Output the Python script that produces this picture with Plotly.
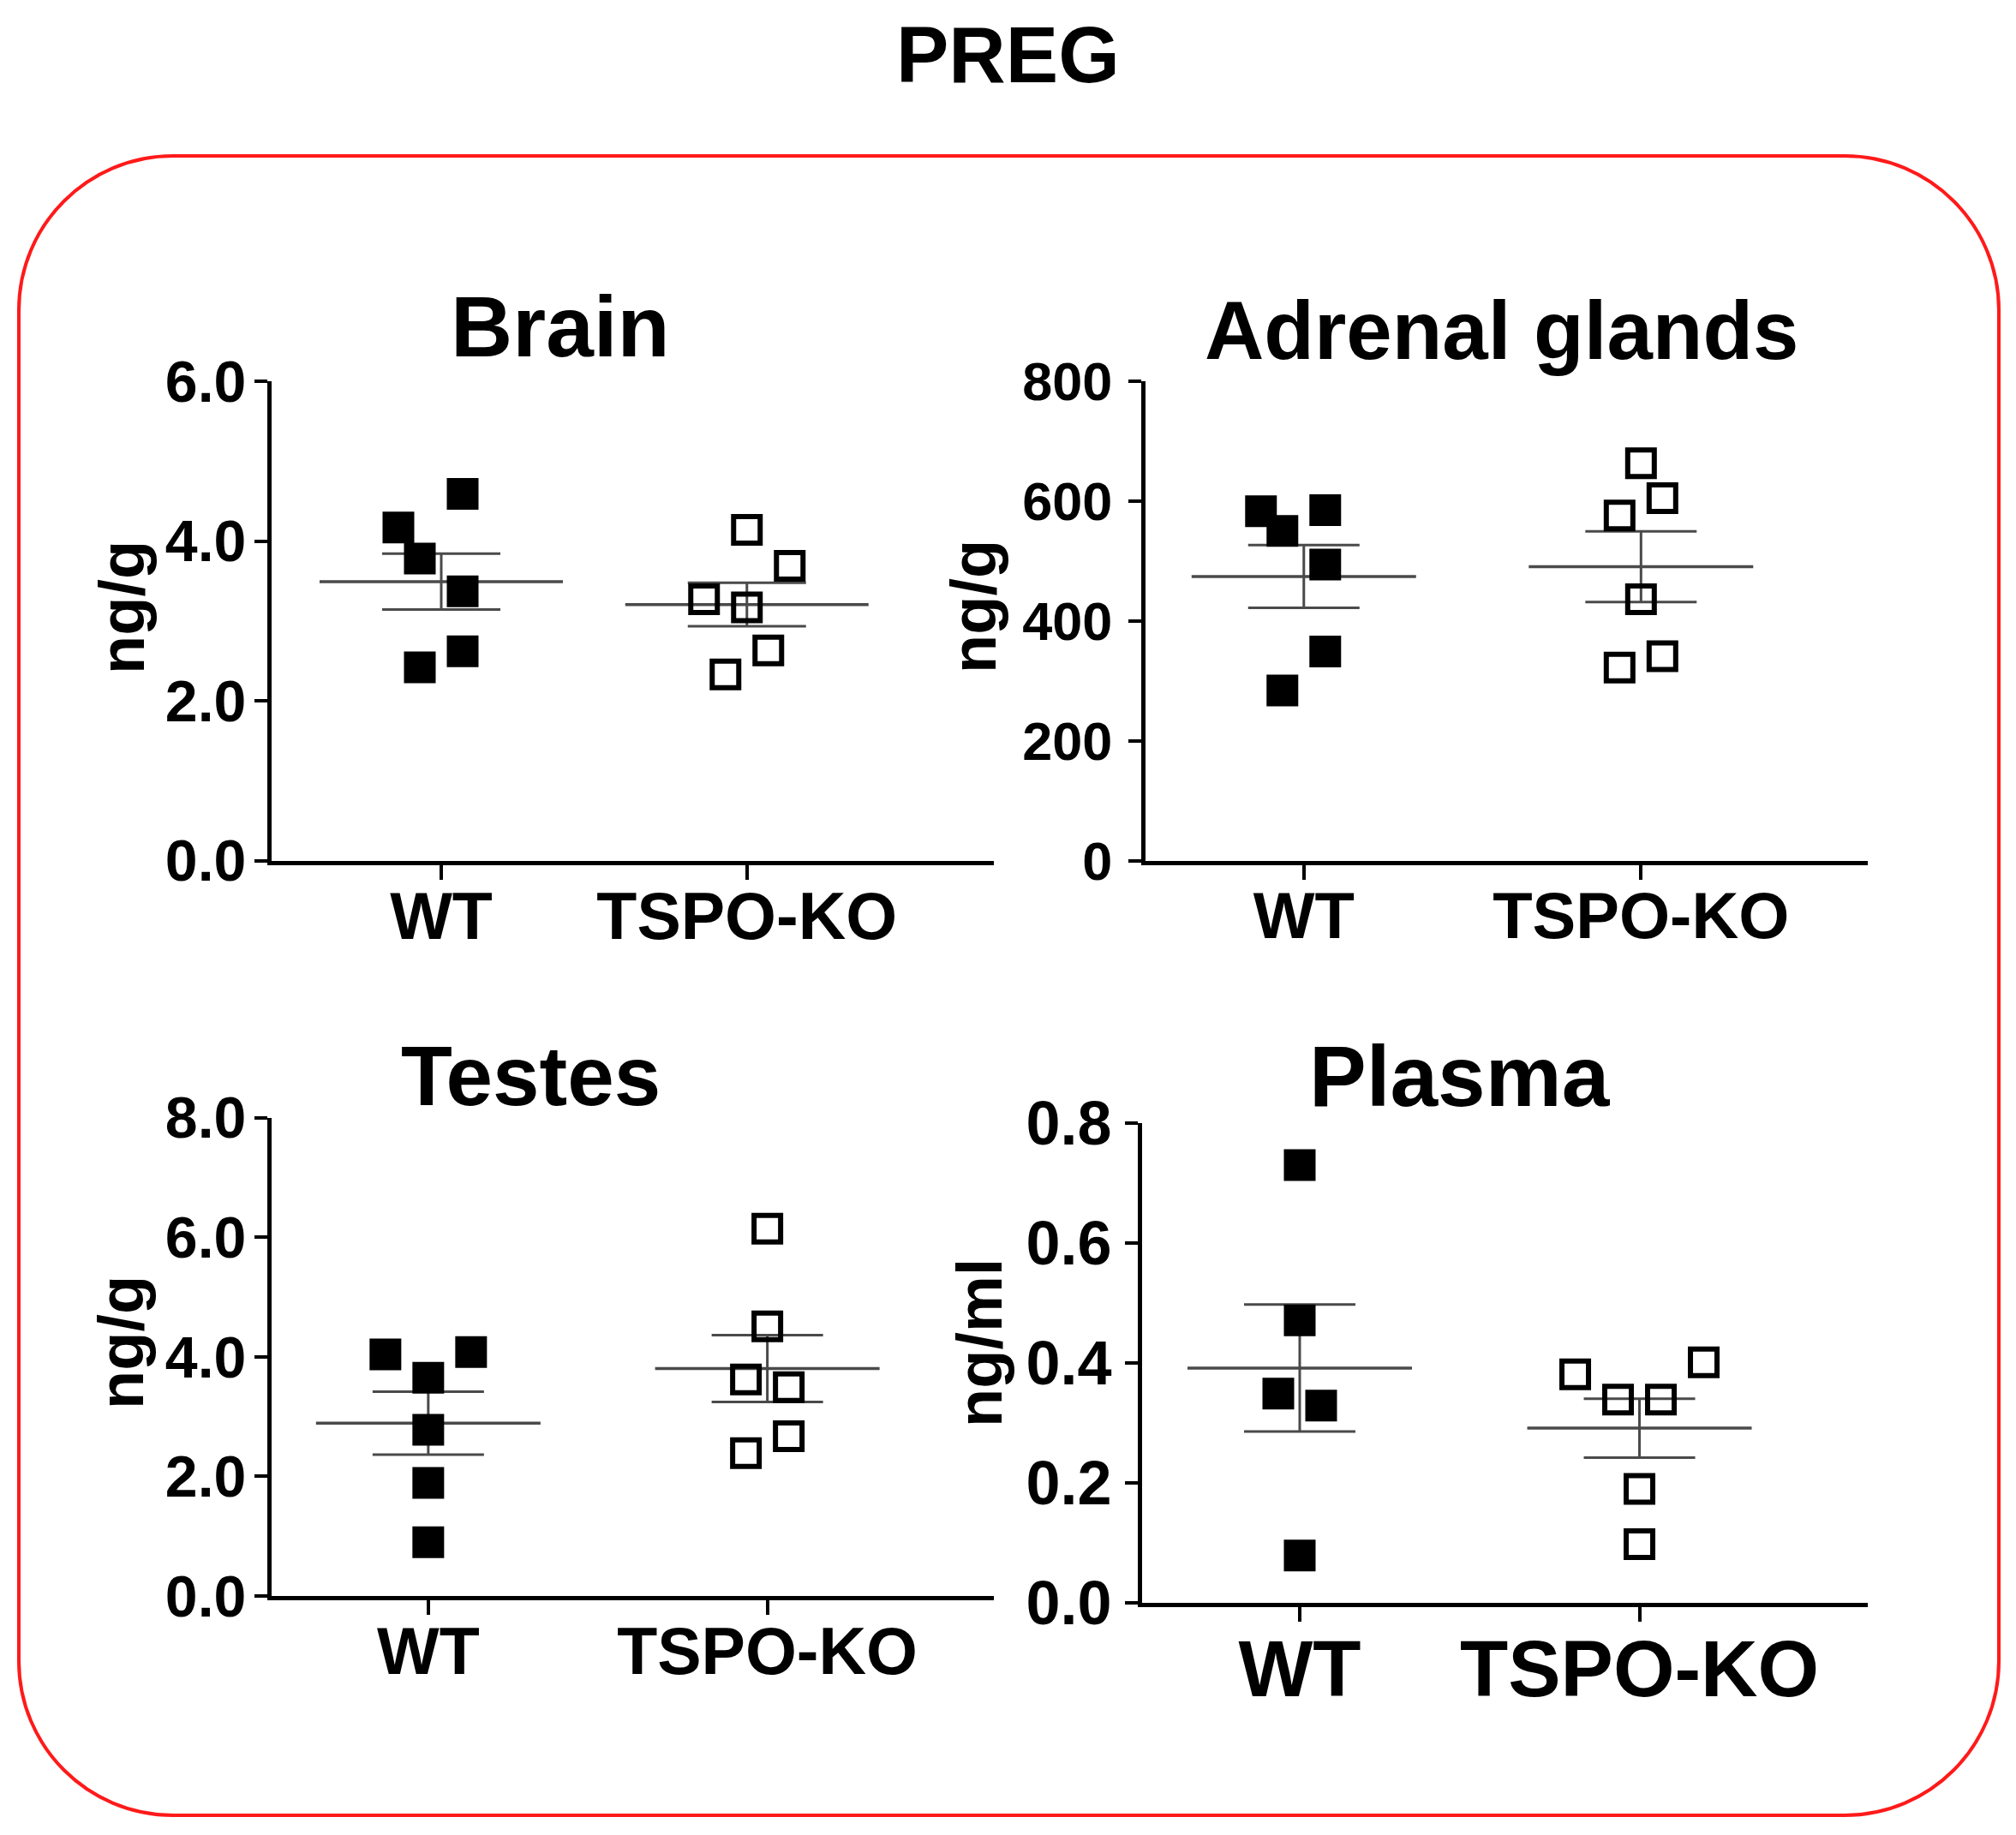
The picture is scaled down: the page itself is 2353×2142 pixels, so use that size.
import numpy as np
import plotly.graph_objects as go

# ---------------- data ----------------
groups = ["WT", "TSPO-KO"]

brain_wt = [4.17, 4.59, 3.78, 3.37, 2.62, 2.42]
brain_ko = [4.14, 3.69, 3.27, 3.17, 2.63, 2.33]
adrenal_wt = [583, 585, 550, 494, 349, 284]
adrenal_ko = [663, 605, 576, 436, 341, 322]
testes_wt = [4.04, 4.08, 3.65, 2.78, 1.89, 0.90]
testes_ko = [6.14, 4.51, 3.62, 3.49, 2.67, 2.39]
plasma_wt = [0.730, 0.471, 0.349, 0.329, 0.079]
plasma_ko = [0.381, 0.339, 0.339, 0.401, 0.190, 0.098]

brain_ticks = [0, 2, 4, 6]
adrenal_ticks = [0, 200, 400, 600, 800]
testes_ticks = [0, 2, 4, 6, 8]
plasma_ticks = [0, 0.2, 0.4, 0.6, 0.8]

# ---------------- layout (scatter columns, positions, styles) ----------------
W, H = 2353, 2142
FONT = "Liberation Sans, Arial, sans-serif"

panels = [
    dict(name="Brain", unit="ng/g", wt=brain_wt, ko=brain_ko,
         wt_cols=[-2, 1, -1, 1, 1, -1], ko_cols=[0, 2, -2, 0, 1, -1],
         ticks=brain_ticks, fmt=".1f", yr=[0, 6],
         px=(317, 1160), py=(445, 1004.6), xr=[-0.555, 1.808],
         mean_hw=142, cap_hw=69, tickfont=68, xfont=77, ystand=-4,
         title_xy=(654, 381), title_size=100, ytitle_xy=(143, 709)),
    dict(name="Adrenal glands", unit="ng/g", wt=adrenal_wt, ko=adrenal_ko,
         wt_cols=[-2, 1, -1, 1, 1, -1], ko_cols=[0, 1, -1, 0, 1, -1],
         ticks=adrenal_ticks, fmt="d", yr=[0, 800],
         px=(1337, 2180), py=(445, 1004.6), xr=[-0.4695, 1.6726],
         mean_hw=131, cap_hw=65, tickfont=63, xfont=76, ystand=6,
         title_xy=(1752, 385), title_size=96, ytitle_xy=(1137, 708)),
    dict(name="Testes", unit="ng/g", wt=testes_wt, ko=testes_ko,
         wt_cols=[-2, 2, 0, 0, 0, 0], ko_cols=[0, 0, -1, 1, 1, -1],
         ticks=testes_ticks, fmt=".1f", yr=[0, 8],
         px=(317, 1160), py=(1304.5, 1863), xr=[-0.462, 1.668],
         mean_hw=131, cap_hw=65, tickfont=68, xfont=77, ystand=-4,
         title_xy=(619, 1256), title_size=98, ytitle_xy=(141, 1567)),
    dict(name="Plasma", unit="ng/ml", wt=plasma_wt, ko=plasma_ko,
         wt_cols=[0, 0, -1, 1, 0], ko_cols=[-3, -1, 1, 3, 0, 0],
         ticks=plasma_ticks, fmt=".1f", yr=[0, 0.8],
         px=(1333, 2180), py=(1311, 1871), xr=[-0.464, 1.672],
         mean_hw=131, cap_hw=65, tickfont=72, xfont=92, ystand=1,
         title_xy=(1704, 1256), title_size=100, ytitle_xy=(1143, 1568)),
]

COL_STEP_PX = 25
LINE_GRAY = "#4a4a4a"

fig = go.Figure()
annotations = []

for i, p in enumerate(panels):
    n = "" if i == 0 else str(i + 1)
    xa, ya = "x" + n, "y" + n
    dom_px = p["px"][1] - p["px"][0]
    ppu = dom_px / (p["xr"][1] - p["xr"][0])  # pixels per x unit
    step = COL_STEP_PX / ppu
    mhw = p["mean_hw"] / ppu

    for gi, (vals, cols, filled) in enumerate([(p["wt"], p["wt_cols"], True),
                                               (p["ko"], p["ko_cols"], False)]):
        v = np.array(vals, dtype=float)
        m = v.mean()
        sem = v.std(ddof=1) / np.sqrt(len(v))
        fig.add_trace(go.Scatter(x=[gi - mhw, gi + mhw], y=[m, m], mode="lines",
                                 line=dict(color=LINE_GRAY, width=3.5),
                                 xaxis=xa, yaxis=ya, hoverinfo="skip", cliponaxis=False))
        fig.add_trace(go.Scatter(x=[gi], y=[m], mode="markers",
                                 marker=dict(size=1, color="rgba(0,0,0,0)"),
                                 error_y=dict(type="data", array=[sem], visible=True,
                                              color=LINE_GRAY, thickness=3,
                                              width=p["cap_hw"]),
                                 xaxis=xa, yaxis=ya, hoverinfo="skip", cliponaxis=False))
        xs = [gi + c * step for c in cols]
        if filled:
            mk = dict(symbol="square", size=37, color="black", line=dict(width=0))
        else:
            mk = dict(symbol="square-open", size=31, color="black",
                      line=dict(width=6, color="black"))
        fig.add_trace(go.Scatter(x=xs, y=vals, mode="markers", marker=mk,
                                 xaxis=xa, yaxis=ya, cliponaxis=False))

    xdom = [p["px"][0] / W, p["px"][1] / W]
    ydom = [1 - p["py"][1] / H, 1 - p["py"][0] / H]
    axis_common = dict(showline=True, linecolor="black", linewidth=5,
                       ticks="outside", tickcolor="black", tickwidth=4,
                       showgrid=False, zeroline=False, fixedrange=True,
                       automargin=False)
    fig.update_layout(**{
        ("xaxis" + n): dict(domain=xdom, range=p["xr"], anchor=ya,
                            tickmode="array", tickvals=[0, 1], ticktext=groups,
                            ticklen=17, ticklabelstandoff=-23,
                            tickfont=dict(family=FONT, size=p["xfont"], color="black",
                                          weight="bold"),
                            **axis_common),
        ("yaxis" + n): dict(domain=ydom, range=p["yr"], anchor=xa,
                            tickmode="array", tickvals=p["ticks"], tickformat=p["fmt"],
                            ticklen=15, ticklabelstandoff=p["ystand"],
                            tickfont=dict(family=FONT, size=p["tickfont"], color="black",
                                          weight="bold"),
                            **axis_common),
    })

    annotations.append(dict(text=p["name"], xref="paper", yref="paper",
                            x=p["title_xy"][0] / W, y=1 - p["title_xy"][1] / H,
                            xanchor="center", yanchor="middle", showarrow=False,
                            font=dict(family=FONT, size=p["title_size"], color="black",
                                      weight="bold")))
    annotations.append(dict(text=p["unit"], xref="paper", yref="paper",
                            x=p["ytitle_xy"][0] / W, y=1 - p["ytitle_xy"][1] / H,
                            xanchor="center", yanchor="middle", showarrow=False,
                            textangle=-90,
                            font=dict(family=FONT, size=74, color="black",
                                      weight="bold")))

annotations.append(dict(text="PREG", xref="paper", yref="paper",
                        x=1176 / W, y=1 - 64 / H, xanchor="center", yanchor="middle",
                        showarrow=False,
                        font=dict(family=FONT, size=92, color="black", weight="bold")))

# rounded red frame
x0, x1 = 22 / W, 2333 / W
yt, yb = 1 - 182 / H, 1 - 2119 / H
rx, ry = 180 / W, 180 / H
k = 0.5523
path = (f"M {x0+rx},{yt} L {x1-rx},{yt} "
        f"C {x1-rx+k*rx},{yt} {x1},{yt-ry+k*ry} {x1},{yt-ry} "
        f"L {x1},{yb+ry} "
        f"C {x1},{yb+ry-k*ry} {x1-rx+k*rx},{yb} {x1-rx},{yb} "
        f"L {x0+rx},{yb} "
        f"C {x0+rx-k*rx},{yb} {x0},{yb+ry-k*ry} {x0},{yb+ry} "
        f"L {x0},{yt-ry} "
        f"C {x0},{yt-ry+k*ry} {x0+rx-k*rx},{yt} {x0+rx},{yt} Z")

fig.update_layout(
    width=W, height=H, margin=dict(l=0, r=0, t=0, b=0, pad=0, autoexpand=False),
    paper_bgcolor="white", plot_bgcolor="white", showlegend=False,
    annotations=annotations,
    shapes=[dict(type="path", path=path, xref="paper", yref="paper",
                 line=dict(color="#ff1a1a", width=4), fillcolor="rgba(0,0,0,0)",
                 layer="below")],
)

fig.write_html("out.html", config={"displayModeBar": False},
               post_script="document.body.style.margin='0';document.body.style.overflow='hidden';")
